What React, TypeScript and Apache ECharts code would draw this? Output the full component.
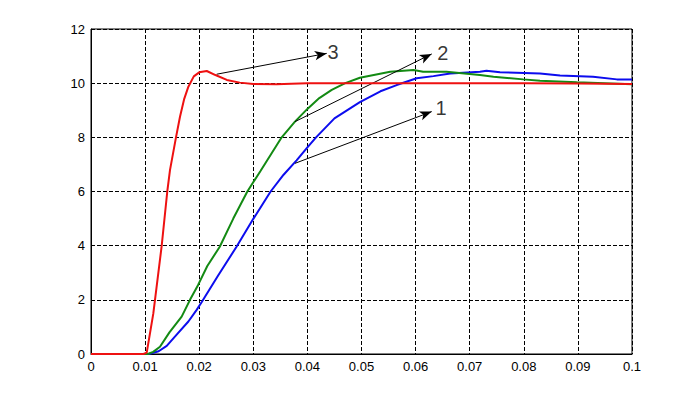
import React, { useEffect, useRef } from "react";
import * as echarts from "echarts";

const xTickLabels = ["0", "0.01", "0.02", "0.03", "0.04", "0.05", "0.06", "0.07", "0.08", "0.09", "0.1"];

const redT = [0, 0.005, 0.0097, 0.0103, 0.0109, 0.01152, 0.01183, 0.01307, 0.0141, 0.0146, 0.01571, 0.01645, 0.0172, 0.018, 0.019, 0.02, 0.0214, 0.023, 0.0251, 0.0275, 0.03, 0.0343, 0.037, 0.04, 0.05, 0.06, 0.07, 0.08, 0.09, 0.1];
const redY = [0, 0, 0, 0.05, 0.76, 1.5, 2.0, 4.0, 6.0, 6.79, 8.0, 8.76, 9.4, 9.87, 10.25, 10.4, 10.45, 10.3, 10.12, 10.02, 9.97, 9.96, 9.98, 10.0, 10.0, 10.0, 10.0, 10.0, 9.99, 9.97];

const greenT = [0, 0.0105, 0.0115, 0.01275, 0.0145, 0.01676, 0.0183, 0.0198, 0.0215, 0.0238, 0.0263, 0.0289, 0.0313, 0.03525, 0.0377, 0.04, 0.0422, 0.0445, 0.047, 0.0497, 0.0553, 0.0596, 0.0614, 0.0657, 0.0719, 0.0744, 0.0799, 0.083, 0.0898, 0.1];
const greenY = [0, 0, 0.08, 0.27, 0.8, 1.38, 2.0, 2.55, 3.25, 3.96, 5.0, 6.0, 6.75, 8.0, 8.58, 9.05, 9.45, 9.75, 10.0, 10.2, 10.42, 10.49, 10.42, 10.42, 10.3, 10.24, 10.14, 10.09, 10.03, 9.96];

const blueT = [0, 0.0107, 0.0125, 0.014, 0.016, 0.018, 0.0195, 0.0205, 0.0235, 0.0269, 0.03, 0.0332, 0.0356, 0.038, 0.04, 0.0416, 0.045, 0.0497, 0.0535, 0.0565, 0.0602, 0.0633, 0.0664, 0.0719, 0.0731, 0.0756, 0.083, 0.0867, 0.0928, 0.0972, 0.1];
const blueY = [0, 0, 0.1, 0.3, 0.75, 1.2, 1.62, 1.93, 2.9, 3.96, 4.99, 6.0, 6.62, 7.15, 7.63, 8.0, 8.7, 9.3, 9.7, 9.93, 10.18, 10.26, 10.36, 10.42, 10.46, 10.4, 10.36, 10.28, 10.24, 10.14, 10.14];

// annotation arrows: start and end in data coordinates
const arrowNames = ["3", "2", "1"];
const arrowStart = [[0.02323, 10.33], [0.03771, 8.58], [0.03771, 7.04]];
const arrowEnd = [[0.04357, 11.1], [0.06298, 11.08], [0.06298, 8.95]];
const labelPos = [[0.04473, 11.16], [0.06501, 11.13], [0.0647, 9.07]];

const zip = (t: number[], y: number[]) => t.map((v, i) => [v, y[i]]);

export default function App() {
  const ref = useRef<HTMLDivElement>(null);
  useEffect(() => {
    document.body.style.margin = "0";
    const chart = echarts.init(ref.current!, null, { renderer: "svg" });
    const font = "Liberation Sans, Arial, sans-serif";
    const lineCommon = { showSymbol: false, smooth: false };
    chart.setOption({
      animation: false,
      backgroundColor: "#fff",
      grid: { left: 91, right: 66, top: 29, bottom: 44, show: true, borderColor: "#000", borderWidth: 1 },
      xAxis: {
        type: "value",
        min: 0,
        max: 0.1,
        interval: 0.01,
        axisLine: { show: true, lineStyle: { color: "#000", width: 1 } },
        axisTick: { show: false },
        axisLabel: {
          color: "#000",
          fontSize: 13,
          fontFamily: font,
          margin: 6,
          formatter: (v: number) => xTickLabels[Math.round(v / 0.01)] ?? "",
        },
        splitLine: { show: true, lineStyle: { color: "#000", type: [4, 2], width: 1 } },
      },
      yAxis: {
        type: "value",
        min: 0,
        max: 12,
        interval: 2,
        axisLine: { show: true, lineStyle: { color: "#000", width: 1 } },
        axisTick: { show: false },
        axisLabel: { color: "#000", fontSize: 13, fontFamily: font, margin: 6 },
        splitLine: { show: true, lineStyle: { color: "#000", type: [4, 2], width: 1 } },
      },
      series: [
        {
          type: "line",
          ...lineCommon,
          data: zip(blueT, blueY),
          lineStyle: { color: "#0c0cee", width: 2 },
          z: 3,
        },
        {
          type: "line",
          ...lineCommon,
          data: zip(greenT, greenY),
          lineStyle: { color: "#138a13", width: 2 },
          z: 4,
        },
        {
          type: "line",
          ...lineCommon,
          data: zip(redT, redY),
          lineStyle: { color: "#ee1111", width: 2 },
          z: 5,
          markLine: {
            silent: true,
            symbol: ["none", "arrow"],
            symbolSize: [7, 12],
            label: { show: false },
            lineStyle: { color: "#000", width: 1, type: "solid" },
            data: arrowNames.map((n, i) => [{ coord: arrowStart[i] }, { coord: arrowEnd[i] }]),
          },
        },
        {
          type: "scatter",
          symbolSize: 0,
          z: 6,
          data: arrowNames.map((n, i) => ({ name: n, value: labelPos[i] })),
          label: {
            show: true,
            position: "inside",
            formatter: (p: any) => p.name,
            color: "#000",
            fontSize: 20,
            fontFamily: font,
          },
        },
      ],
    });
    return () => chart.dispose();
  }, []);
  return <div ref={ref} style={{ width: 698, height: 398 }} />;
}
